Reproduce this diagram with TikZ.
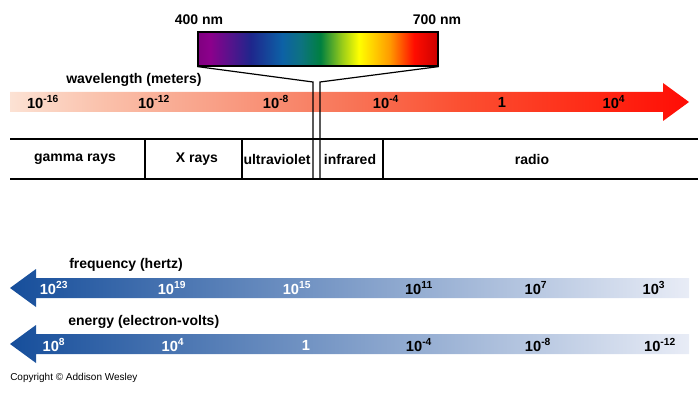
\documentclass[tikz,border=0pt]{standalone}
\usepackage{fontspec}
\setmainfont{Liberation Sans}
\usepackage{xcolor}
\usepackage{tikz}

\definecolor{bluedark}{RGB}{22,78,155}
\definecolor{bluepale}{RGB}{232,236,246}
\definecolor{wlA}{RGB}{252,226,212}
\definecolor{wlB}{RGB}{250,192,170}
\definecolor{wlC}{RGB}{249,160,135}
\definecolor{wlD}{RGB}{248,119,90}
\definecolor{wlE}{RGB}{251,80,50}
\definecolor{wlF}{RGB}{255,40,20}
\definecolor{wlG}{RGB}{255,12,5}
\pgfdeclarehorizontalshading{visspec}{100bp}{rgb(0bp)=(0.5,0,0.5); rgb(25bp)=(0.5,0,0.5); rgb(27.5bp)=(0.55,0,0.55); rgb(36bp)=(0.12,0.15,0.55); rgb(42.5bp)=(0.05,0.38,0.65); rgb(46.5bp)=(0.05,0.45,0.5); rgb(50.5bp)=(0,0.5,0.25); rgb(55bp)=(0.6,0.8,0.1); rgb(58.5bp)=(1,1,0); rgb(65bp)=(1,0.6,0); rgb(70bp)=(1,0.05,0); rgb(75bp)=(0.8,0,0); rgb(100bp)=(0.8,0,0)}
\pgfdeclarehorizontalshading{wlspec}{100bp}{color(0bp)=(wlA); color(25bp)=(wlA); color(32bp)=(wlB); color(40bp)=(wlC); color(49.5bp)=(wlD); color(58bp)=(wlE); color(68.5bp)=(wlF); color(75bp)=(wlG); color(100bp)=(wlG)}
\newcommand{\tenp}[1]{10\textsuperscript{#1}}

\begin{document}
\begin{tikzpicture}[x=0.75pt,y=0.75pt,yscale=-1,xscale=1,
    lbl/.style={inner sep=0.75pt,font=\bfseries\fontsize{10.5}{12}\selectfont},
    num/.style={inner sep=0.75pt,font=\bfseries\fontsize{11}{13}\selectfont},
    rule/.style={line width=0.9pt}]
        \useasboundingbox (0,0) rectangle (698,392);

        \shade [shading=wlspec] (10,92) -- (663,92) -- (663,83) -- (689,102) -- (663,121) -- (663,112) -- (10,112) -- cycle;
        \shade [left color=bluedark, right color=bluepale] (689,278) -- (36,278) -- (36,269) -- (10,288) -- (36,307) -- (36,298) -- (689,298) -- cycle;
        \shade [left color=bluedark, right color=bluepale] (689,334) -- (36,334) -- (36,325) -- (10,344) -- (36,363) -- (36,354) -- (689,354) -- cycle;

        \node (vis) at (318,49) [draw, rule, shade, shading=visspec, inner sep=0pt, minimum width=180pt, minimum height=25.5pt] {};
        \coordinate (uvtop) at (313,82);
        \coordinate (irtop) at (320,82);
        \coordinate (uvend) at (313,179);
        \coordinate (irend) at (320,179);
        \draw [rule] (vis.south west) -- (uvtop) -- (uvend);
        \draw [rule] (vis.south east) -- (irtop) -- (irend);

        \draw [rule] (10,139) -- (698,139);
        \draw [rule] (10,179) -- (698,179);
        \draw [rule] (145,139) -- (145,179);
        \draw [rule] (242,139) -- (242,179);
        \draw [rule] (383,139) -- (383,179);

        \node (nm400) at (199,20) [lbl] {400 nm};
        \node (nm700) at (437,20) [lbl] {700 nm};
        \node (wavelen) at (65,80) [lbl, anchor=west] {wavelength (meters)};
        \node (wl1) at (43,102) [num] {\tenp{-16}};
        \node (wl2) at (154,102) [num] {\tenp{-12}};
        \node (wl3) at (276,102) [num] {\tenp{-8}};
        \node (wl4) at (386,102) [num] {\tenp{-4}};
        \node (wl5) at (502,102) [num] {1};
        \node (wl6) at (614,102) [num] {\tenp{4}};

        \node (gamma) at (75,159) [lbl] {gamma rays};
        \node (xray) at (197,159) [lbl] {X rays};
        \node (uv) at (277,159) [lbl] {ultraviolet};
        \node (ir) at (350,159) [lbl] {infrared};
        \node (radio) at (532,159) [lbl] {radio};

        \node (freq) at (68,265) [lbl, anchor=west] {frequency (hertz)};
        \node (fq1) at (54,288) [num, white] {\tenp{23}};
        \node (fq2) at (172,288) [num, white] {\tenp{19}};
        \node (fq3) at (297,288) [num, white] {\tenp{15}};
        \node (fq4) at (419,288) [num] {\tenp{11}};
        \node (fq5) at (536,288) [num] {\tenp{7}};
        \node (fq6) at (654,288) [num] {\tenp{3}};

        \node (energy) at (67,322) [lbl, anchor=west] {energy (electron-volts)};
        \node (en1) at (54,345) [num, white] {\tenp{8}};
        \node (en2) at (173,345) [num, white] {\tenp{4}};
        \node (en3) at (306,345) [num, white] {1};
        \node (en4) at (419,345) [num] {\tenp{-4}};
        \node (en5) at (538,345) [num] {\tenp{-8}};
        \node (en6) at (660,345) [num] {\tenp{-12}};

        \node (copy) at (10,378) [anchor=west, inner sep=0pt, font=\fontsize{7.5}{9}\selectfont] {Copyright © Addison Wesley};
    \end{tikzpicture}
\end{document}
